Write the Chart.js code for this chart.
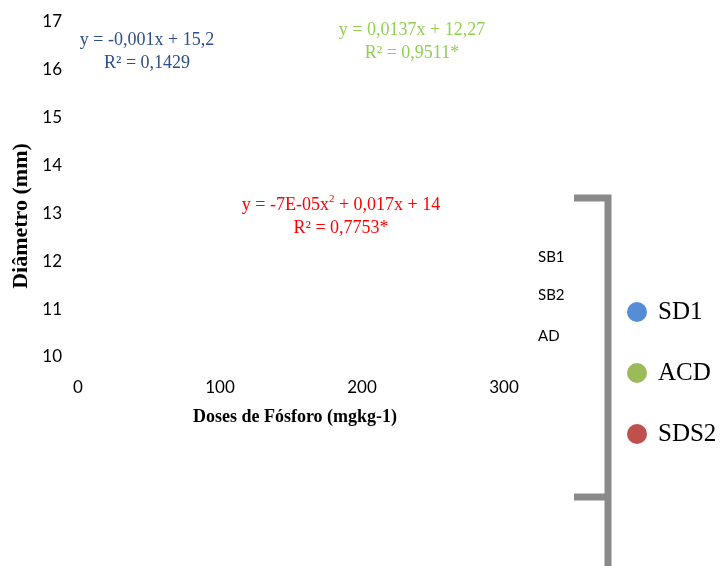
<!DOCTYPE html>
<html>
<head>
<meta charset="utf-8">
<script src="https://cdn.jsdelivr.net/npm/chart.js@4/dist/chart.umd.min.js"></script>
<style>
  html, body { margin: 0; padding: 0; background: #ffffff; }
  #wrap { width: 724px; height: 566px; }
</style>
</head>
<body>
<div id="wrap"><canvas id="c" width="724" height="566"></canvas></div>
<script>
// Series shown in the legend (no observations are plotted in this panel)
const seriesNames = ['SD1', 'ACD', 'SDS2'];
const seriesColors = ['#558ed5', '#9bbb59', '#c0504d'];
const seriesPoints = [[], [], []];

// Axis ticks
const xTicks = [0, 100, 200, 300];
const yTicks = [10, 11, 12, 13, 14, 15, 16, 17];

// Fitted trend equations and R² values
const eqLines = [
  ['y = -0,001x + 15,2', 'R² = 0,1429'],
  ['y = 0,0137x + 12,27', 'R² = 0,9511*'],
  ['y = -7E-05x|2| + 0,017x + 14', 'R² = 0,7753*']
];
const eqColors = ['#2b4e8c', '#92d050', '#ff0000'];

// Row labels of the data table beside the plot
const tableLabels = ['SB1', 'SB2', 'AD'];

const xTitle = 'Doses de Fósforo (mgkg-1)';
const yTitle = 'Diâmetro (mm)';

const SERIF = '"Liberation Serif", "Times New Roman", serif';
const SANS = 'Lato, "Open Sans", sans-serif';

// Draws a line of text with optional |superscript| segments, centred on cx
function drawRich(ctx, text, cx, cy, size) {
  const parts = text.split('|');
  const small = Math.round(size * 0.62);
  let total = 0;
  parts.forEach((p, i) => {
    ctx.font = (i % 2 ? small : size) + 'px ' + SERIF;
    total += ctx.measureText(p).width;
  });
  let x = cx - total / 2;
  ctx.textAlign = 'left';
  ctx.textBaseline = 'middle';
  parts.forEach((p, i) => {
    const sup = i % 2 === 1;
    ctx.font = (sup ? small : size) + 'px ' + SERIF;
    ctx.fillText(p, x, sup ? cy - size * 0.35 : cy);
    x += ctx.measureText(p).width;
  });
}

const decorations = {
  id: 'decorations',
  afterDraw(chart) {
    const ctx = chart.ctx;
    ctx.save();

    // trend equations
    const eqPos = [[147, 40, 63], [412, 30, 53], [341, 205, 228]];
    eqLines.forEach((lines, i) => {
      ctx.fillStyle = eqColors[i];
      drawRich(ctx, lines[0], eqPos[i][0], eqPos[i][1], 18);
      drawRich(ctx, lines[1], eqPos[i][0], eqPos[i][2], 18);
    });

    // axis titles
    ctx.fillStyle = '#000';
    ctx.font = 'bold 18px ' + SERIF;
    ctx.textAlign = 'center';
    ctx.textBaseline = 'middle';
    ctx.fillText(xTitle, 295, 417);
    ctx.save();
    ctx.translate(21, 216);
    ctx.rotate(-Math.PI / 2);
    ctx.font = 'bold 22px ' + SERIF;
    ctx.fillText(yTitle, 0, 0);
    ctx.restore();

    // table row labels
    ctx.font = '15px ' + SANS;
    ctx.textAlign = 'left';
    tableLabels.forEach((t, i) => {
      ctx.fillText(t, 538, [257, 295, 336][i]);
    });

    // grey bracket
    ctx.strokeStyle = '#8a8a8a';
    ctx.lineWidth = 7;
    ctx.lineCap = 'butt';
    ctx.beginPath();
    ctx.moveTo(574, 198); ctx.lineTo(608, 198);
    ctx.moveTo(608, 194.5); ctx.lineTo(608, 566);
    ctx.moveTo(574, 497); ctx.lineTo(608, 497);
    ctx.stroke();

    // legend
    seriesNames.forEach((name, i) => {
      const cy = 312 + 61 * i;
      ctx.fillStyle = seriesColors[i];
      ctx.beginPath();
      ctx.arc(637, cy, 10, 0, Math.PI * 2);
      ctx.fill();
      ctx.fillStyle = '#000';
      ctx.font = '25px ' + SERIF;
      ctx.textAlign = 'left';
      ctx.textBaseline = 'middle';
      ctx.fillText(name, 658, cy);
    });

    ctx.restore();
  }
};

new Chart(document.getElementById('c'), {
  type: 'scatter',
  data: {
    datasets: seriesNames.map((n, i) => ({
      label: n,
      data: seriesPoints[i],
      backgroundColor: seriesColors[i],
      borderColor: seriesColors[i],
      pointRadius: 5
    }))
  },
  options: {
    responsive: false,
    devicePixelRatio: 1,
    animation: false,
    layout: { padding: { left: 18, right: 220, top: 22, bottom: 169 } },
    plugins: { legend: { display: false }, tooltip: { enabled: false } },
    scales: {
      x: {
        type: 'linear', min: 0, max: 300,
        afterBuildTicks: s => { s.ticks = xTicks.map(v => ({ value: v })); },
        afterFit: s => { s.height = 40; },
        grid: { display: false, drawTicks: false },
        border: { display: false },
        ticks: { color: '#000', font: { family: SANS, size: 17 }, padding: 20, maxRotation: 0 }
      },
      y: {
        type: 'linear', min: 10, max: 17,
        afterBuildTicks: s => { s.ticks = yTicks.map(v => ({ value: v })); },
        afterFit: s => { s.width = 60; s.paddingTop = 0; s.paddingBottom = 0; },
        grid: { display: false, drawTicks: false },
        border: { display: false },
        ticks: { color: '#000', font: { family: SANS, size: 17 }, padding: 16 }
      }
    }
  },
  plugins: [decorations]
});
</script>
</body>
</html>
